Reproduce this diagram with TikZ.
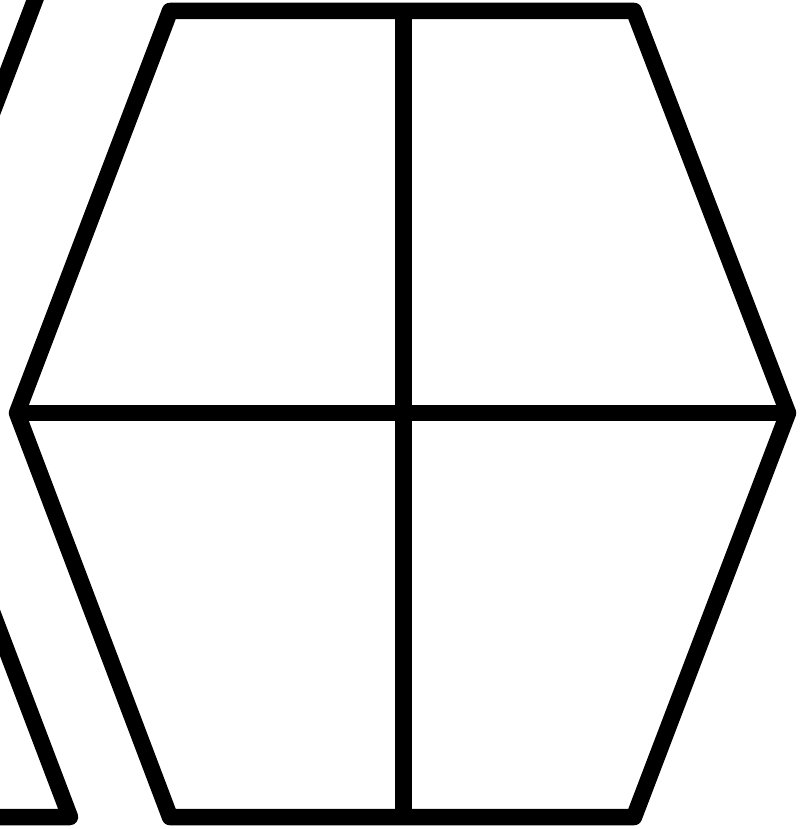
\documentclass[tikz,border=0pt]{standalone}
\begin{document}
\begin{tikzpicture}[x=1pt,y=-1pt,
  edge/.style={line width=16.5pt, line join=round, line cap=butt, black}]
\useasboundingbox (0,0) rectangle (811,829);
\clip (0,0) rectangle (811,829);
\fill[white] (0,0) rectangle (811,829);
% main hexagon vertices
\coordinate (tl) at (170,11);
\coordinate (tr) at (634,11);
\coordinate (r) at (788,413);
\coordinate (br) at (634,817);
\coordinate (bl) at (170,817);
\coordinate (l) at (17,413);
\coordinate (tm) at (403.5,11);
\coordinate (bm) at (403.5,817);
% partial shape on the left
\coordinate (pa) at (42.6,-20);
\coordinate (pv) at (-102.7,362.5);
\coordinate (pb) at (70,817);
\coordinate (pc) at (-30,817);
\draw[edge] (pa) -- (pv) -- (pb) -- (pc);
% cross
\draw[edge] (tm) -- (bm);
\draw[edge] (l) -- (r);
% hexagon outline
\draw[edge] (tl) -- (tr) -- (r) -- (br) -- (bl) -- (l) -- cycle;
\end{tikzpicture}
\end{document}
